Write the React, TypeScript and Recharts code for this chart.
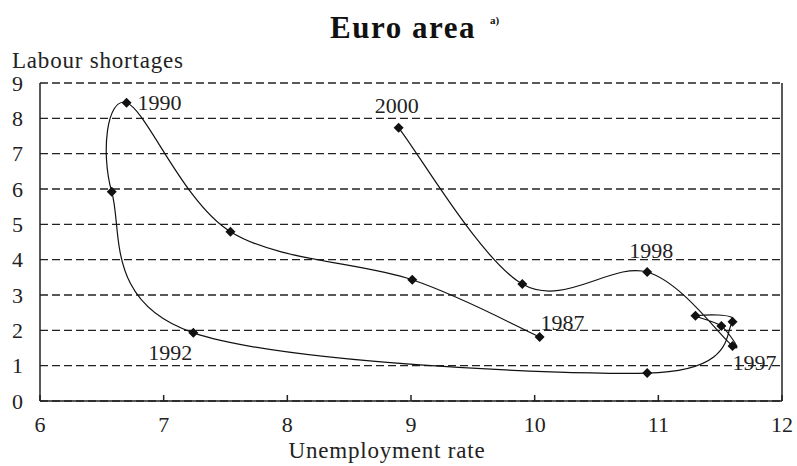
import React from "react";
import {
  CartesianGrid,
  Line,
  LineChart,
  ReferenceLine,
  XAxis,
  YAxis,
} from "recharts";

// Euro area: unemployment rate vs labour shortages, 1987-2000
const YEARS = [1987, 1988, 1989, 1990, 1991, 1992, 1993, 1994, 1995, 1996, 1997, 1998, 1999, 2000];
const UNEMPLOYMENT = [10.04, 9.01, 7.54, 6.7, 6.58, 7.24, 10.91, 11.6, 11.3, 11.51, 11.6, 10.91, 9.9, 8.9];
const SHORTAGES = [1.81, 3.43, 4.79, 8.44, 5.92, 1.93, 0.79, 2.24, 2.41, 2.12, 1.56, 3.65, 3.31, 7.73];
const LABELLED_YEARS = [1987, 1990, 1992, 1997, 1998, 2000];
const X_TICKS = [6, 7, 8, 9, 10, 11, 12];
const Y_TICKS = [0, 1, 2, 3, 4, 5, 6, 7, 8, 9];

const FONT = '"Liberation Serif", "Times New Roman", serif';
const INK = "#222";

// where each year label sits relative to its marker
const LABEL_POS: Record<number, { dx: number; dy: number; anchor: string }> = {
  1987: { dx: 1, dy: -7, anchor: "start" },
  1990: { dx: 11, dy: 7, anchor: "start" },
  1992: { dx: -1, dy: 27, anchor: "end" },
  1997: { dx: 0, dy: 24, anchor: "start" },
  1998: { dx: 4, dy: -14, anchor: "middle" },
  2000: { dx: -2, dy: -15, anchor: "middle" },
};

const data = YEARS.map((year, i) => ({
  year,
  x: UNEMPLOYMENT[i],
  y: SHORTAGES[i],
  label: LABELLED_YEARS.includes(year) ? String(year) : "",
}));

// Excel-like smoothed line through the points in time order
function smoothCurve(context: any) {
  let pts: [number, number][] = [];
  return {
    areaStart() {},
    areaEnd() {},
    lineStart() {
      pts = [];
    },
    point(x: number, y: number) {
      pts.push([+x, +y]);
    },
    lineEnd() {
      if (!pts.length) return;
      const t = 1 / 6;
      context.moveTo(pts[0][0], pts[0][1]);
      for (let i = 0; i < pts.length - 1; i++) {
        const p0 = pts[Math.max(i - 1, 0)];
        const p1 = pts[i];
        const p2 = pts[i + 1];
        const p3 = pts[Math.min(i + 2, pts.length - 1)];
        context.bezierCurveTo(
          p1[0] + (p2[0] - p0[0]) * t,
          p1[1] + (p2[1] - p0[1]) * t,
          p2[0] - (p3[0] - p1[0]) * t,
          p2[1] - (p3[1] - p1[1]) * t,
          p2[0],
          p2[1]
        );
      }
    },
  };
}

function DiamondDot(props: any) {
  const { cx, cy, payload } = props;
  if (cx == null || cy == null) return null;
  const r = 5;
  const pos = LABEL_POS[payload.year];
  return (
    <g>
      <polygon
        points={`${cx},${cy - r} ${cx + r},${cy} ${cx},${cy + r} ${cx - r},${cy}`}
        fill="#111"
      />
      {payload.label && pos ? (
        <text
          x={cx + pos.dx}
          y={cy + pos.dy}
          textAnchor={pos.anchor as any}
          fontFamily={FONT}
          fontSize={22}
          fill={INK}
        >
          {payload.label}
        </text>
      ) : null}
    </g>
  );
}

export default function App() {
  return (
    <div style={{ position: "absolute", left: 0, top: 0, width: 797, height: 466, background: "#fff" }}>
      <LineChart
        width={797}
        height={466}
        data={data}
        margin={{ top: 83, right: 15, bottom: 0, left: 0 }}
      >
        <CartesianGrid
          horizontal
          vertical={false}
          stroke={INK}
          strokeDasharray="8 4"
          strokeWidth={1.3}
        />
        <XAxis
          type="number"
          dataKey="x"
          domain={[6, 12]}
          ticks={X_TICKS}
          height={65}
          stroke={INK}
          strokeWidth={1.5}
          tickSize={-6}
          tickMargin={21}
          tick={{ fontFamily: FONT, fontSize: 22, fill: INK }}
        />
        <YAxis
          type="number"
          dataKey="y"
          domain={[0, 9]}
          ticks={Y_TICKS}
          width={40}
          stroke={INK}
          strokeWidth={1.5}
          tickLine={false}
          tickSize={0}
          tickMargin={17}
          tick={{ fontFamily: FONT, fontSize: 22, fill: INK }}
        />
        <ReferenceLine x={12} stroke={INK} strokeWidth={1.5} />
        <Line
          type={smoothCurve as any}
          dataKey="y"
          stroke="#111"
          strokeWidth={1.2}
          dot={<DiamondDot />}
          activeDot={false}
          isAnimationActive={false}
        />
      </LineChart>
      <svg
        width={797}
        height={466}
        style={{ position: "absolute", left: 0, top: 0, pointerEvents: "none" }}
      >
        <text x={403} y={38} textAnchor="middle" fontFamily={FONT} fontSize={31} fontWeight="bold" letterSpacing={1.5} fill="#111">
          Euro area
        </text>
        <text x={490} y={24} fontFamily={FONT} fontSize={11} fontWeight="bold" fill="#111">
          a)
        </text>
        <text x={12} y={68} fontFamily={FONT} fontSize={23} letterSpacing={0.8} fill={INK}>
          Labour shortages
        </text>
        <text x={387} y={458} textAnchor="middle" fontFamily={FONT} fontSize={23} letterSpacing={0.8} fill={INK}>
          Unemployment rate
        </text>
      </svg>
    </div>
  );
}
